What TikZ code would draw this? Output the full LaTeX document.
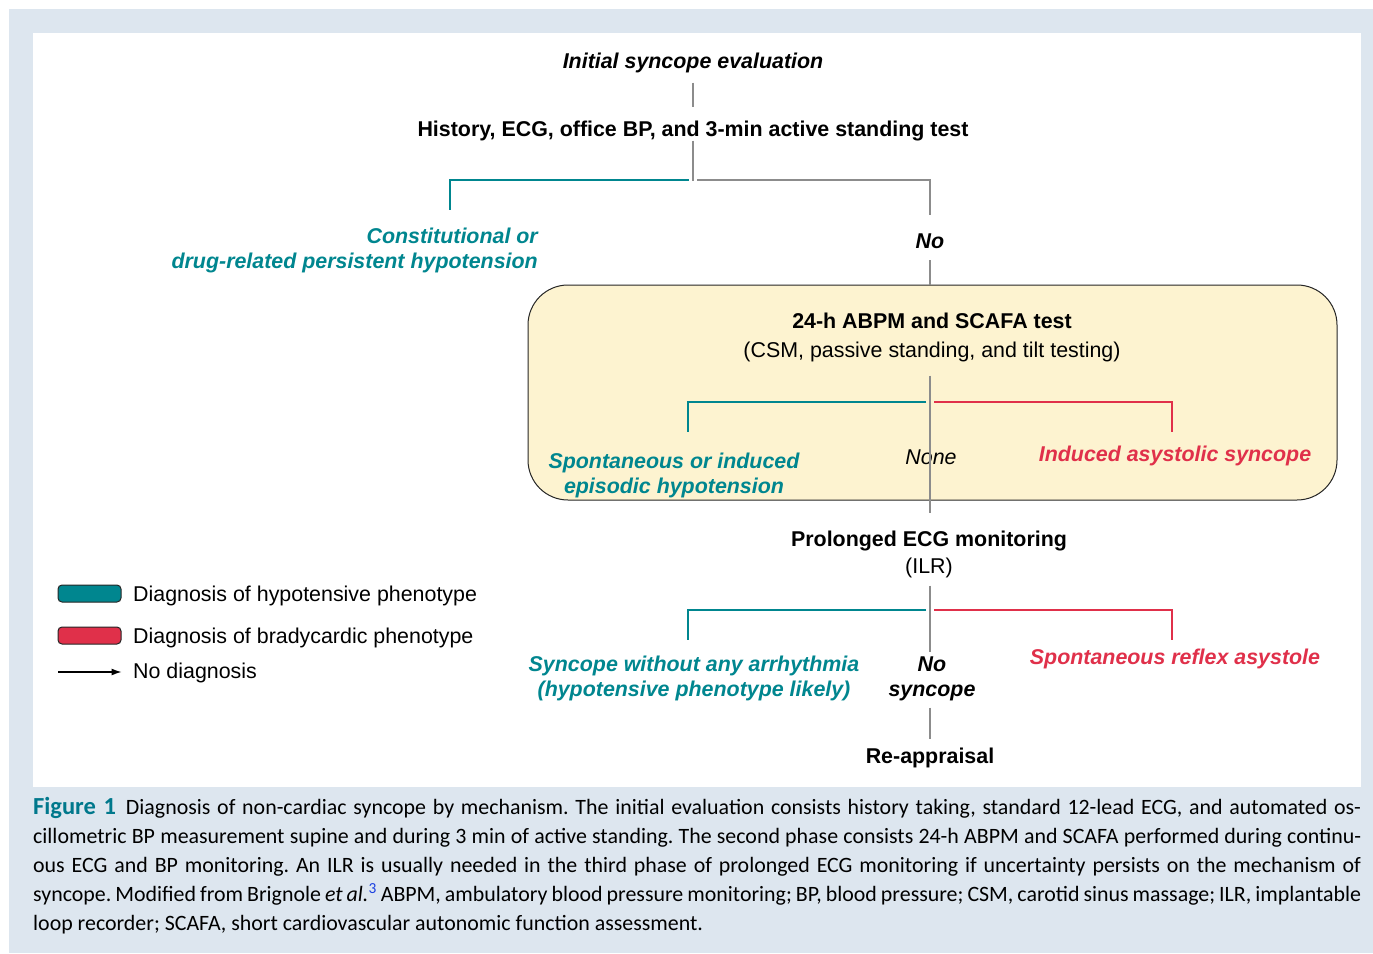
\documentclass[tikz,border=0pt]{standalone}
\usepackage{fontspec}
\setmainfont{Liberation Sans}
\newfontfamily\capfont{Carlito}
\usetikzlibrary{arrows.meta}
\definecolor{tealc}{HTML}{00868F}
\definecolor{redc}{HTML}{E0304A}
\definecolor{boxfill}{HTML}{FDF3D0}
\definecolor{outerc}{HTML}{DDE6EF}
\definecolor{capteal}{HTML}{00788C}
\definecolor{linegray}{HTML}{8C8C8C}
\definecolor{refblue}{HTML}{1A3FE0}
\frenchspacing
\begin{document}
\begin{tikzpicture}[x=1pt,y=-1pt,
  txt/.style={inner sep=0pt, anchor=base, align=center, font=\fontsize{21.4}{25}\selectfont},
  bold/.style={txt, font=\fontsize{21.4}{25}\selectfont\bfseries},
  bolditalic/.style={txt, font=\fontsize{21.4}{25}\selectfont\bfseries\itshape},
  gl/.style={draw=linegray, line width=1.2pt},
  tl/.style={draw=tealc, line width=2.6pt},
  rl/.style={draw=redc, line width=2.6pt},
  legendbox/.style={draw=black!85, line width=1pt, rounded corners=4pt, minimum width=63pt, minimum height=17pt, inner sep=0pt},
  capstyle/.style={inner sep=0pt, anchor=north west, align=left, font=\capfont\fontsize{21.9}{29}\selectfont}
]
\useasboundingbox (0,0) rectangle (1373,953);
\fill[outerc] (9,9) rectangle (1373,953);
\fill[white] (33,33) rectangle (1361,787);

% level 1
\node[bolditalic] (init) at (693,68) {Initial syncope evaluation};
\node[bold] (hist) at (693,136) {History, ECG, office BP, and 3-min active standing test};
\draw[gl, shorten <=10pt, shorten >=13pt] (init.south) -- (hist.north);
\coordinate (j1) at (693,180);
\coordinate (e1) at (450,210);
\draw[gl] (hist.south) -- ([yshift=-1pt]j1);
\node[bolditalic, text=tealc, align=right, anchor=base east] (const) at (538,268) {Constitutional or\\drug-related persistent hypotension};
\node[bolditalic] (no1) at (930,248) {No};
\draw[tl] ([xshift=-4pt]j1) -| (e1);
\draw[gl, shorten >=18pt] ([xshift=4pt]j1) -| (no1.north);

% box
\node[draw=black!85, line width=1pt, fill=boxfill, rounded corners=40pt, minimum width=809pt, minimum height=215pt, inner sep=0pt] (box) at (932.5,392.5) {};
\draw[gl, shorten <=12pt] (no1.south) -- (no1.south |- box.north);
\node[txt] (boxtitle) at (932,357) {{\bfseries 24-h ABPM and SCAFA test}\\[4pt](CSM, passive standing, and tilt testing)};
\coordinate (j2) at (930,402);
\coordinate (e2a) at (688,432);
\coordinate (e2b) at (1172,432);
\node[bolditalic, text=tealc] (spont) at (674,493) {Spontaneous or induced\\episodic hypotension};
\node[txt, font=\fontsize{21.4}{25}\selectfont\itshape] (none) at (931,464) {None};
\node[bolditalic, text=redc] (asys) at (1175,461) {Induced asystolic syncope};
\draw[tl] ([xshift=-4pt]j2) -| (e2a);
\draw[rl] ([xshift=4pt]j2) -| (e2b);

% ECG monitoring
\node[txt] (ecg) at (929,573) {{\bfseries Prolonged ECG monitoring}\\[2pt](ILR)};
\draw[gl, shorten <=14pt, shorten >=17pt] (j2 |- boxtitle.south) -- (j2 |- ecg.north);
\coordinate (j3) at (930,610);
\coordinate (e3a) at (688,640);
\coordinate (e3b) at (1172,640);
\node[bolditalic, text=tealc] (noarr) at (694,696) {Syncope without any arrhythmia\\(hypotensive phenotype likely)};
\node[bolditalic] (nosync) at (932,696) {No\\syncope};
\node[bolditalic, text=redc] (refl) at (1175,664) {Spontaneous reflex asystole};
\draw[tl] ([xshift=-4pt]j3) -| (e3a);
\draw[rl] ([xshift=4pt]j3) -| (e3b);
\draw[gl, shorten <=8pt, shorten >=4pt] (j3 |- ecg.south) -- (j3 |- nosync.north);
\node[bold] (reapp) at (930,763) {Re-appraisal};
\draw[gl, shorten <=7pt, shorten >=8pt] (j3 |- nosync.south) -- (j3 |- reapp.north);

% legend
\node[legendbox, fill=tealc] (lg1) at (89.5,593.5) {};
\node[txt, anchor=base west] (lt1) at (133,601) {Diagnosis of hypotensive phenotype};
\node[legendbox, fill=redc] (lg2) at (89.5,635.5) {};
\node[txt, anchor=base west] (lt2) at (133,643) {Diagnosis of bradycardic phenotype};
\node[txt, anchor=base west] (lt3) at (133,678) {No diagnosis};
\coordinate (a0) at (58,672);
\draw[line width=1.2pt, -{Latex[length=10pt,width=7pt]}] (a0) -- (a0 -| lg1.east);

% caption
\node[capstyle] (cap) at (33,797) {%
\makebox[1328pt][s]{{\bfseries\color{capteal}\fontsize{24.5}{29}\selectfont Figure 1}\hspace{10pt}Diagnosis of non-cardiac syncope by mechanism. The initial evaluation consists history taking, standard 12-lead ECG, and automated os-}\\
\makebox[1328pt][s]{cillometric BP measurement supine and during 3 min of active standing. The second phase consists 24-h ABPM and SCAFA performed during continu-}\\
\makebox[1328pt][s]{ous ECG and BP monitoring. An ILR is usually needed in the third phase of prolonged ECG monitoring if uncertainty persists on the mechanism of}\\
\makebox[1328pt][s]{syncope. Modified from Brignole \textit{et al.}\textsuperscript{\color{refblue}3} ABPM, ambulatory blood pressure monitoring; BP, blood pressure; CSM, carotid sinus massage; ILR, implantable}\\
loop recorder; SCAFA, short cardiovascular autonomic function assessment.};
\end{tikzpicture}
\end{document}
